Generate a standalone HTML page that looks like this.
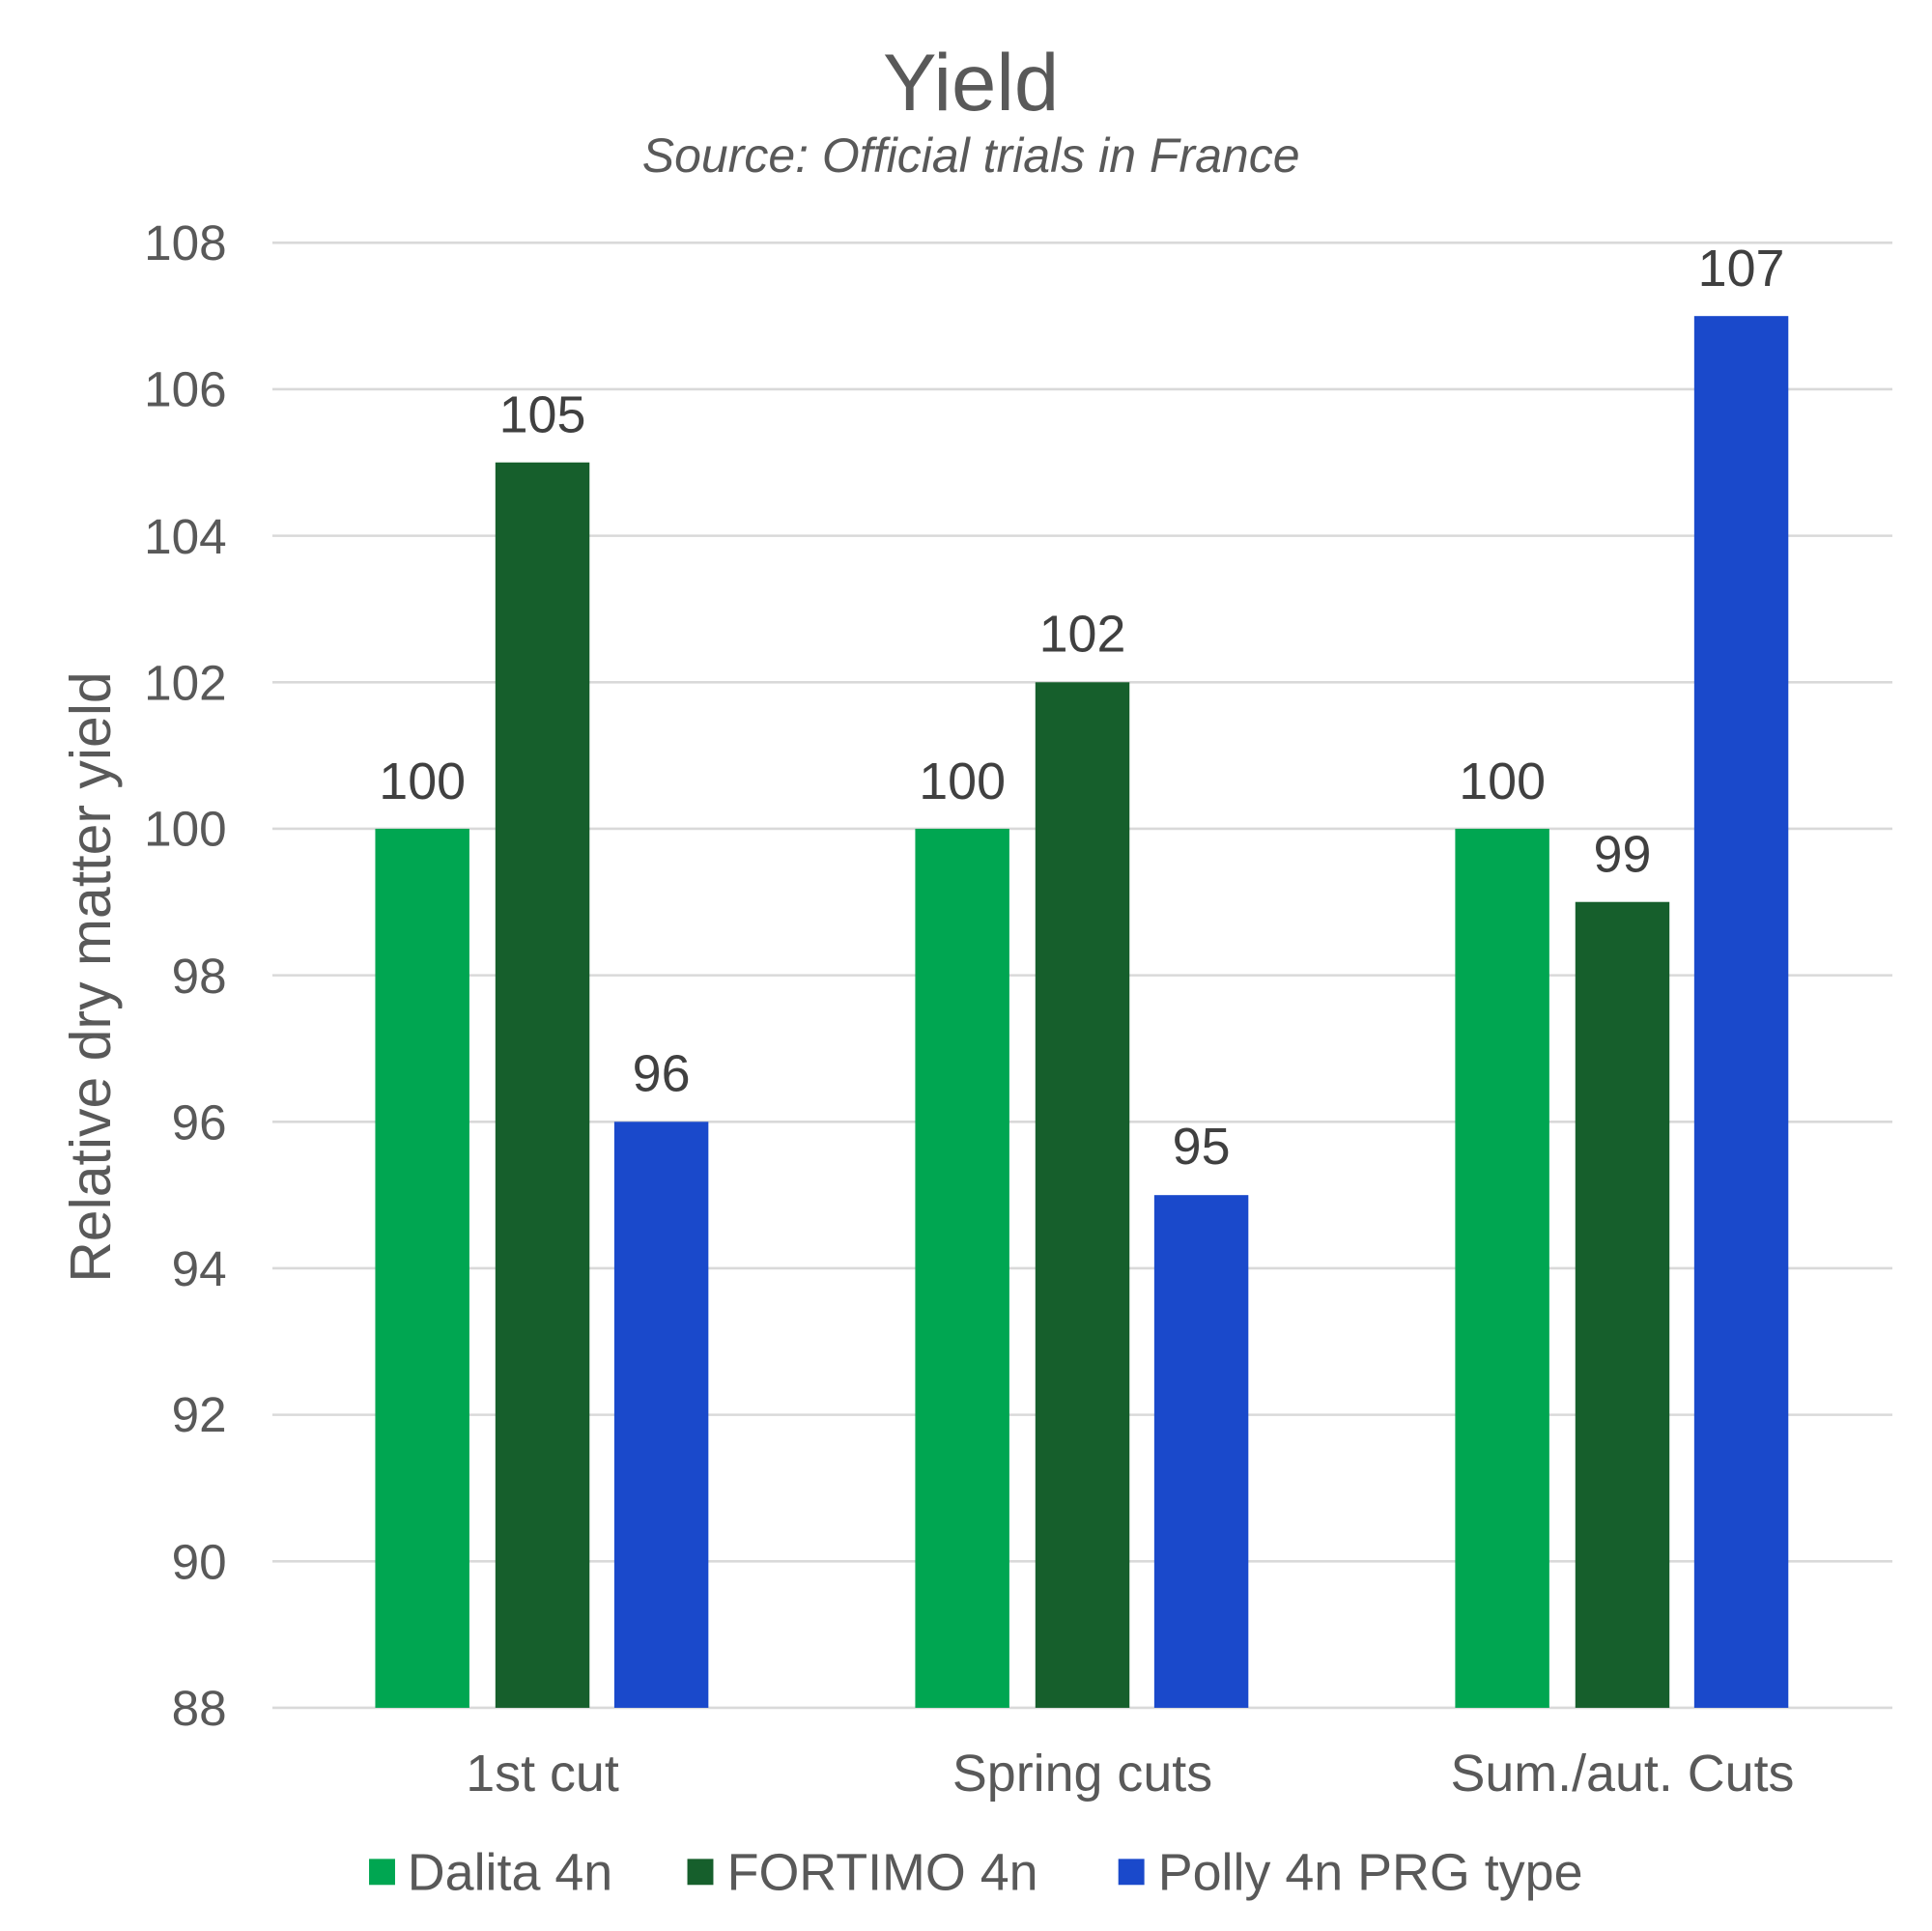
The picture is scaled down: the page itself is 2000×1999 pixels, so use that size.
<!DOCTYPE html>
<html><head><style>html,body{margin:0;padding:0;background:#fff}svg{display:block}</style></head>
<body>
<svg width="2000" height="1999" viewBox="0 0 1560 1559.22" xmlns="http://www.w3.org/2000/svg" font-family="Liberation Sans, Arial, sans-serif">
<rect width="1560" height="1560" fill="#fff"/>
<text x="784" y="89" font-size="65" fill="#595959" text-anchor="middle">Yield</text>
<text x="784" y="139" font-size="39" fill="#595959" text-anchor="middle" font-style="italic">Source: Official trials in France</text>
<g stroke="#d9d9d9" stroke-width="2">
<line x1="220" x2="1528" y1="196" y2="196"/>
<line x1="220" x2="1528" y1="314.3" y2="314.3"/>
<line x1="220" x2="1528" y1="432.6" y2="432.6"/>
<line x1="220" x2="1528" y1="550.9" y2="550.9"/>
<line x1="220" x2="1528" y1="669.2" y2="669.2"/>
<line x1="220" x2="1528" y1="787.5" y2="787.5"/>
<line x1="220" x2="1528" y1="905.8" y2="905.8"/>
<line x1="220" x2="1528" y1="1024.1" y2="1024.1"/>
<line x1="220" x2="1528" y1="1142.4" y2="1142.4"/>
<line x1="220" x2="1528" y1="1260.7" y2="1260.7"/>
<line x1="220" x2="1528" y1="1379" y2="1379"/>
</g>
<g font-size="40" fill="#595959" text-anchor="end">
<text x="183" y="210">108</text><text x="183" y="328">106</text><text x="183" y="447">104</text>
<text x="183" y="565">102</text><text x="183" y="683">100</text><text x="183" y="802">98</text>
<text x="183" y="920">96</text><text x="183" y="1038">94</text><text x="183" y="1156">92</text>
<text x="183" y="1275">90</text><text x="183" y="1393">88</text>
</g>
<text transform="translate(89,789) rotate(-90)" font-size="46" fill="#595959" text-anchor="middle">Relative dry matter yield</text>
<g>
<rect x="303" y="669.2" width="76" height="709.8" fill="#00A651"/>
<rect x="400" y="373.4" width="76" height="1005.6" fill="#165F2C"/>
<rect x="496" y="905.8" width="76" height="473.2" fill="#1A49CB"/>
<rect x="739" y="669.2" width="76" height="709.8" fill="#00A651"/>
<rect x="836" y="550.9" width="76" height="828.1" fill="#165F2C"/>
<rect x="932" y="965" width="76" height="414" fill="#1A49CB"/>
<rect x="1175" y="669.2" width="76" height="709.8" fill="#00A651"/>
<rect x="1272" y="728.3" width="76" height="650.7" fill="#165F2C"/>
<rect x="1368" y="255.2" width="76" height="1123.8" fill="#1A49CB"/>
</g>
<g font-size="42" fill="#404040" text-anchor="middle">
<text x="341" y="645">100</text><text x="438" y="349">105</text><text x="534" y="881">96</text>
<text x="777" y="645">100</text><text x="874" y="526">102</text><text x="970" y="940">95</text>
<text x="1213" y="645">100</text><text x="1310" y="704">99</text><text x="1406" y="231">107</text>
</g>
<g font-size="42" fill="#595959" text-anchor="middle">
<text x="438" y="1446">1st cut</text><text x="874" y="1446">Spring cuts</text><text x="1310" y="1446">Sum./aut. Cuts</text>
</g>
<g font-size="42" fill="#595959">
<rect x="298" y="1501" width="21" height="21" fill="#00A651"/><text x="329" y="1526">Dalita 4n</text>
<rect x="555" y="1501" width="21" height="21" fill="#165F2C"/><text x="587" y="1526">FORTIMO 4n</text>
<rect x="903" y="1501" width="21" height="21" fill="#1A49CB"/><text x="935" y="1526">Polly 4n PRG type</text>
</g>
</svg>
</body></html>
